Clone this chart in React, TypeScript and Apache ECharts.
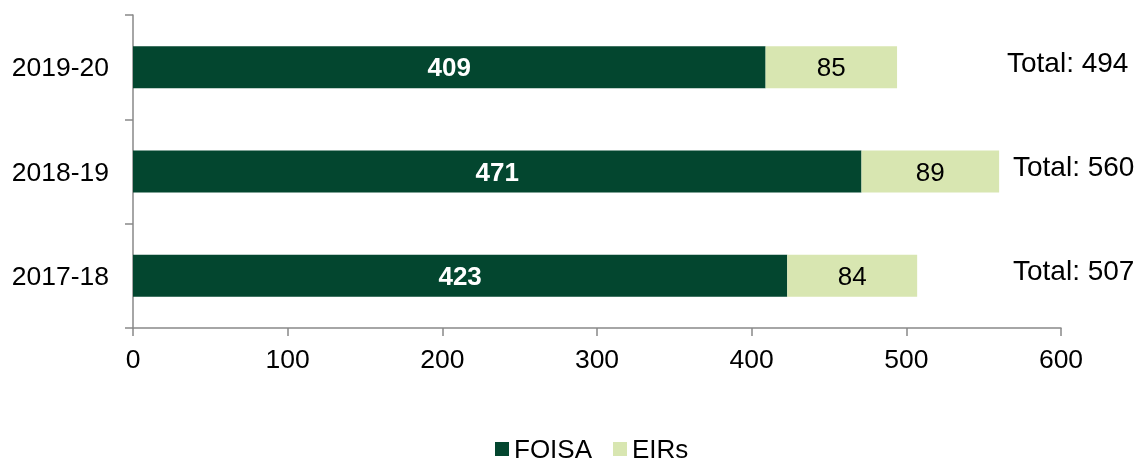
import React, { useEffect, useRef } from "react";
import * as echarts from "echarts";

const categories = ["2017-18", "2018-19", "2019-20"];
const foisa = [423, 471, 409];
const eirs = [84, 89, 85];
const totals = [507, 560, 494];
const totalLabelX = [1013, 1013, 1007];
const xTicks = { min: 0, max: 600, interval: 100 };

const FONT = "'Liberation Sans', Arial, sans-serif";
const DARK = "#03462f";
const LIGHT = "#d8e6b1";

export default function App() {
  const ref = useRef<HTMLDivElement>(null);
  useEffect(() => {
    if (!ref.current) return;
    const chart = echarts.init(ref.current, undefined, { renderer: "svg" });
    const option: any = {
      animation: false,
      textStyle: { fontFamily: FONT },
      grid: { left: 133, right: 77, top: 15, bottom: 135, containLabel: false },
      legend: {
        top: 436,
        left: 495,
        padding: 0,
        icon: "rect",
        itemWidth: 14,
        itemHeight: 14,
        itemGap: 21,
        textStyle: { fontSize: 26, lineHeight: 26, color: "#000", fontFamily: FONT },
        data: ["FOISA", "EIRs"],
      },
      xAxis: {
        type: "value",
        min: xTicks.min,
        max: xTicks.max,
        interval: xTicks.interval,
        axisLine: { show: true, lineStyle: { color: "#898989", width: 1.5 } },
        axisTick: { show: true, length: 8, lineStyle: { color: "#898989", width: 1.5 } },
        splitLine: { show: false },
        axisLabel: { fontSize: 26.5, color: "#000", margin: 17, fontFamily: FONT },
      },
      yAxis: {
        type: "category",
        data: categories,
        axisLine: { show: true, lineStyle: { color: "#898989", width: 1.5 } },
        axisTick: { show: true, length: 8, lineStyle: { color: "#898989", width: 1.5 } },
        axisLabel: { fontSize: 26.5, color: "#000", margin: 24, fontFamily: FONT },
      },
      series: [
        {
          name: "FOISA",
          type: "bar",
          stack: "total",
          barWidth: 42,
          data: foisa,
          itemStyle: { color: DARK },
          label: {
            show: true,
            position: "inside",
            color: "#fff",
            fontWeight: "bold",
            fontSize: 26,
            fontFamily: FONT,
          },
        },
        {
          name: "EIRs",
          type: "bar",
          stack: "total",
          barWidth: 42,
          data: eirs,
          itemStyle: { color: LIGHT },
          label: {
            show: true,
            position: "inside",
            color: "#000",
            fontSize: 26,
            fontFamily: FONT,
          },
        },
      ],
    };
    chart.setOption(option);
    const graphics = categories.map((c, i) => {
      const y = chart.convertToPixel({ yAxisIndex: 0 }, c) as number;
      return {
        type: "text",
        x: totalLabelX[i],
        y: y - 5,
        style: {
          text: "Total: " + totals[i],
          fontSize: 28,
          fill: "#000",
          fontFamily: FONT,
          verticalAlign: "middle",
          align: "left",
        },
      };
    });
    chart.setOption({ graphic: graphics });
    return () => chart.dispose();
  }, []);
  return (
    <div
      ref={ref}
      style={{ position: "fixed", left: 0, top: 0, width: 1138, height: 463 }}
    />
  );
}
